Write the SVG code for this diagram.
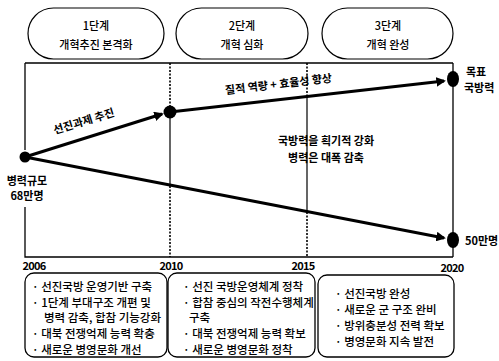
<svg xmlns="http://www.w3.org/2000/svg" width="499" height="361" viewBox="0 0 499 361">
<style>
text{font-family:"Noto Sans CJK KR","Noto Sans",sans-serif;fill:#000}
.pill{fill:#fff;stroke:#000;stroke-width:1.2}
.ph{font-size:11px;font-weight:500;text-anchor:middle}
.box{fill:#fff;stroke:#000;stroke-width:1.3}
.bt{font-size:11.5px;font-weight:500}
.yr{font-size:11px;font-weight:700;text-anchor:middle;letter-spacing:-0.8px}
.frame{stroke:#000;stroke-width:1.3;fill:none}
.dot{stroke:#000;stroke-width:1.6;stroke-dasharray:2 1.5;fill:none}
.thin{stroke:#000;stroke-width:1.2;fill:none}
.arr{stroke:#000;stroke-width:3;fill:none;marker-end:url(#ah)}
.lb{font-size:11px;font-weight:700}
</style>
<defs>
<marker id="ah" viewBox="0 0 10 10" refX="8" refY="5" markerWidth="3.2" markerHeight="3.2" orient="auto" markerUnits="strokeWidth">
<path d="M0,0 L10,5 L0,10 Z" fill="#000"/>
</marker>
</defs>
<rect width="499" height="361" fill="#fff"/>

<g id="phase1"><rect class="pill" x="28" y="8" width="136" height="51" rx="25.5"/>
<text class="ph" x="96" y="30">1단계</text><text class="ph" x="96" y="49">개혁추진 본격화</text></g>
<g id="phase2"><rect class="pill" x="176" y="8" width="132" height="51" rx="25.5"/>
<text class="ph" x="242" y="30">2단계</text><text class="ph" x="242" y="49">개혁 심화</text></g>
<g id="phase3"><rect class="pill" x="322" y="8" width="131" height="51" rx="25.5"/>
<text class="ph" x="388" y="30">3단계</text><text class="ph" x="388" y="49">개혁 완성</text></g>

<g id="frame">
<path class="frame" d="M25,63 H453 M25,63 V150 M25,207 V257 H453 M453,63 V257"/>
<path class="dot" d="M170,63 V112 M170,186 V257 M307,63 V96 M307,212 V257"/>
<path class="thin" d="M170,112 V186 M307,96 V212"/>
</g>

<g id="connectors">
<path class="arr" d="M25,157 L162,114"/>
<path class="arr" d="M170,112 L444,81"/>
<path class="arr" d="M25,157 L444,238"/>
</g>

<g id="start"><circle cx="25" cy="157" r="5.5"/>
<text class="lb" x="27" y="185" text-anchor="middle">병력규모</text>
<text class="lb" x="27" y="200" text-anchor="middle">68만명</text></g>
<g id="mid2010"><circle cx="170" cy="112" r="6.5"/></g>
<g id="goal"><ellipse cx="453" cy="79" rx="6" ry="8"/>
<text class="lb" x="466" y="76">목표</text><text class="lb" x="464" y="92">국방력</text></g>
<g id="end50"><ellipse cx="453" cy="240" rx="6" ry="8"/>
<text class="lb" x="465" y="245">50만명</text></g>

<g id="labels">
<text class="lb" transform="translate(85,125) rotate(-17)" text-anchor="middle" font-size="10.5">선진과제 추진</text>
<text class="lb" transform="translate(279,88) rotate(-6.7)" text-anchor="middle">질적 역량 + 효율성 향상</text>
<text class="lb" x="326" y="145" text-anchor="middle" font-size="11.5">국방력을 획기적 강화</text>
<text class="lb" x="326" y="162" text-anchor="middle" font-size="11.5">병력은 대폭 감축</text>
</g>

<g id="years">
<text class="yr" x="34" y="270">2006</text>
<text class="yr" x="171" y="270">2010</text>
<text class="yr" x="303" y="270">2015</text>
<text class="yr" x="452" y="272">2020</text>
</g>

<g id="box1"><rect class="box" x="25" y="273" width="142" height="84" rx="9"/>
<text class="bt" x="32" y="291">· 선진국방 운영기반 구축</text>
<text class="bt" x="32" y="307">· 1단계 부대구조 개편 및</text>
<text class="bt" x="44" y="322">병력 감축, 합참 기능강화</text>
<text class="bt" x="32" y="338">· 대북 전쟁억제 능력 확충</text>
<text class="bt" x="32" y="354">· 새로운 병영문화 개선</text></g>
<g id="box2"><rect class="box" x="168" y="273" width="147" height="84" rx="9"/>
<text class="bt" x="183" y="291">· 선진 국방운영체계 정착</text>
<text class="bt" x="183" y="307">· 합참 중심의 작전수행체계</text>
<text class="bt" x="189" y="322">구축</text>
<text class="bt" x="183" y="338">· 대북 전쟁억제 능력 확보</text>
<text class="bt" x="183" y="354">· 새로운 병영문화 정착</text></g>
<g id="box3"><rect class="box" x="318" y="275" width="136" height="82" rx="9"/>
<text class="bt" x="335" y="298">· 선진국방 완성</text>
<text class="bt" x="335" y="314">· 새로운 군 구조 완비</text>
<text class="bt" x="335" y="330">· 방위충분성 전력 확보</text>
<text class="bt" x="335" y="346">· 병영문화 지속 발전</text></g>
</svg>
